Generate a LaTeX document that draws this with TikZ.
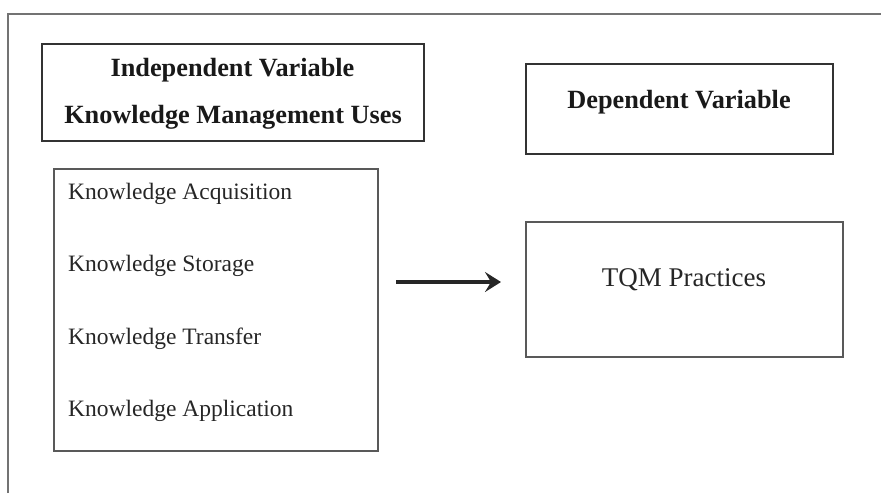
\documentclass[tikz,border=0pt]{standalone}
\usepackage{fontspec}
\setmainfont{Liberation Serif}
\usetikzlibrary{arrows.meta, positioning}

\tikzset{
  headbox/.style={draw=black!80, line width=2.2pt, rectangle, inner sep=0pt},
  listbox/.style={draw=black!65, line width=1.2pt, rectangle, inner sep=0pt},
  headtxt/.style={anchor=base, inner sep=0pt, font=\fontsize{26.3}{31}\selectfont\bfseries, text=black!90},
  itemtxt/.style={anchor=base west, inner sep=0pt, font=\fontsize{23.5}{28}\selectfont, text=black!85}
}

\begin{document}
\begin{tikzpicture}[x=1pt, y=-1pt, >=Stealth]
\useasboundingbox (0,0) rectangle (881,493);
\draw[black!55, line width=1.3pt] (8,493) |- (881,14);

\node[headbox, minimum width=382pt, minimum height=97pt] (indep) at (233,92.5) {};
\node[headtxt] (indepA) at (232.5,76) {Independent Variable};
\node[headtxt] (indepB) at (233,123.3) {Knowledge Management Uses};

\node[headbox, minimum width=307pt, minimum height=90pt] (dep) at (679.5,109) {};
\node[headtxt] (depA) at (679,108) {Dependent Variable};

\node[listbox, minimum width=324pt, minimum height=282pt] (uses) at (216,310) {};
\node[itemtxt] (acq) at (68,199.5) {Knowledge Acquisition};
\node[itemtxt] (sto) at (68,271.7) {Knowledge Storage};
\node[itemtxt] (tra) at (68,344) {Knowledge Transfer};
\node[itemtxt] (app) at (68,416.7) {Knowledge Application};

\node[listbox, minimum width=317pt, minimum height=135pt] (tqm) at (684.5,289.5) {};
\node[anchor=base, inner sep=0pt, font=\fontsize{27}{32}\selectfont, text=black!85] (tqmA) at (684,286.7) {TQM Practices};

\coordinate (from) at (396,282);
\coordinate (to) at (501,282);
\draw[line width=3.8pt, black!85, arrows={-Stealth[length=16pt,width=20pt,inset=6pt]}] (from) -- (to);
\end{tikzpicture}
\end{document}
